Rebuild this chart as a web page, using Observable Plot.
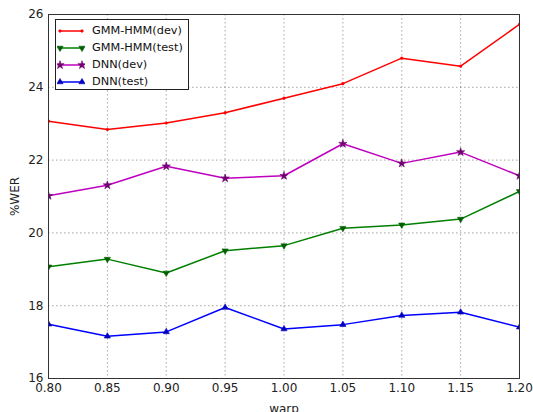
<!DOCTYPE html>
<html><head><meta charset="utf-8">
<script src="https://cdn.jsdelivr.net/npm/d3@7"></script>
<script src="https://cdn.jsdelivr.net/npm/@observablehq/plot@0.6"></script>
<style>
body{margin:0;background:#fff;font-family:"DejaVu Sans",sans-serif;}
#wrap{position:relative;width:533px;height:412px;overflow:hidden;}
#legend{position:absolute;left:55px;top:19px;width:134px;height:71px;border:1px solid #222;background:#fff;box-sizing:border-box;font-size:11.3px;color:#111;}
.row{position:absolute;left:0;height:16px;width:132px;}
.row svg{position:absolute;left:1px;top:0;}
.row span{position:absolute;left:36px;top:0;line-height:16px;white-space:nowrap;}
</style></head><body><div id="wrap"></div>
<script>
const warp = [0.80, 0.85, 0.90, 0.95, 1.00, 1.05, 1.10, 1.15, 1.20];
const gmmDev  = [23.07, 22.84, 23.02, 23.30, 23.70, 24.10, 24.80, 24.58, 25.73];
const gmmTest = [19.07, 19.28, 18.90, 19.51, 19.65, 20.13, 20.22, 20.38, 21.14];
const dnnDev  = [21.02, 21.31, 21.83, 21.50, 21.57, 22.45, 21.91, 22.22, 21.57];
const dnnTest = [17.49, 17.16, 17.28, 17.95, 17.36, 17.48, 17.73, 17.82, 17.41];
const seriesNames = ["GMM-HMM(dev)", "GMM-HMM(test)", "DNN(dev)", "DNN(test)"];
const seriesColors = ["#ff0000", "#007f00", "#bf00bf", "#0000ff"];
const markerFills = ["#ff0000", "#006000", "#700070", "#0000c0"];
const seriesSymbols = ["circle", "triangle", "star", "triangle"];
const seriesRotate = [0, 180, 0, 0];
const seriesR = [1.3, 2.3, 2.6, 2.3];
const yTicks = [16, 18, 20, 22, 24, 26];
const xTicks = warp;

const values = [gmmDev, gmmTest, dnnDev, dnnTest];
const data = [];
values.forEach((arr, s) => arr.forEach((v, i) => data.push({warp: warp[i], wer: v, s})));

const marks = [
  Plot.gridX(xTicks, {stroke: "#000", strokeOpacity: 0.45, strokeDasharray: "1.5,2.5", strokeWidth: 0.8}),
  Plot.gridY(yTicks, {stroke: "#000", strokeOpacity: 0.45, strokeDasharray: "1.5,2.5", strokeWidth: 0.8}),
  Plot.axisX({ticks: xTicks, tickFormat: d3.format(".2f"), tickSize: 0, tickPadding: 5, label: "warp", labelAnchor: "center", labelArrow: "none", labelOffset: 34}),
  Plot.axisY({ticks: yTicks, tickSize: 0, tickPadding: 5, label: "%WER", labelAnchor: "center", labelArrow: "none", labelOffset: 38})
];
seriesNames.forEach((name, s) => {
  const d = data.filter(r => r.s === s);
  marks.push(Plot.line(d, {x: "warp", y: "wer", stroke: seriesColors[s], strokeWidth: 1.5, clip: "frame"}));
  marks.push(Plot.dot(d, {x: "warp", y: "wer", symbol: seriesSymbols[s], rotate: seriesRotate[s], r: seriesR[s], fill: markerFills[s], stroke: markerFills[s], strokeWidth: 0.6, clip: "frame"}));
});
marks.push(Plot.frame({stroke: "#333", strokeWidth: 1}));

const chart = Plot.plot({
  width: 533, height: 412,
  marginLeft: 48, marginRight: 14, marginTop: 14, marginBottom: 34,
  x: {domain: [0.8, 1.2]},
  y: {domain: [16, 26]},
  style: {fontSize: "12px", fontFamily: "DejaVu Sans, sans-serif", color: "#222", background: "#fff"},
  marks
});
const wrap = document.getElementById("wrap");
wrap.appendChild(chart);

const legend = document.createElement("div");
legend.id = "legend";
const symMap = {circle: d3.symbolCircle, triangle: d3.symbolTriangle, star: d3.symbolStar};
seriesNames.forEach((name, s) => {
  const row = document.createElement("div");
  row.className = "row";
  row.style.top = (3 + s * 17) + "px";
  const sym = d3.symbol(symMap[seriesSymbols[s]], Math.PI * seriesR[s] * seriesR[s])();
  const mk = (x) => `<path d="${sym}" transform="translate(${x},8) rotate(${seriesRotate[s]})" fill="${markerFills[s]}" stroke="${markerFills[s]}" stroke-width="0.6"/>`;
  row.innerHTML = `<svg width="28" height="16"><line x1="2" x2="26" y1="8" y2="8" stroke="${seriesColors[s]}" stroke-width="1.5"/>${mk(3)}${mk(25)}</svg><span>${name}</span>`;
  legend.appendChild(row);
});
wrap.appendChild(legend);
</script></body></html>
